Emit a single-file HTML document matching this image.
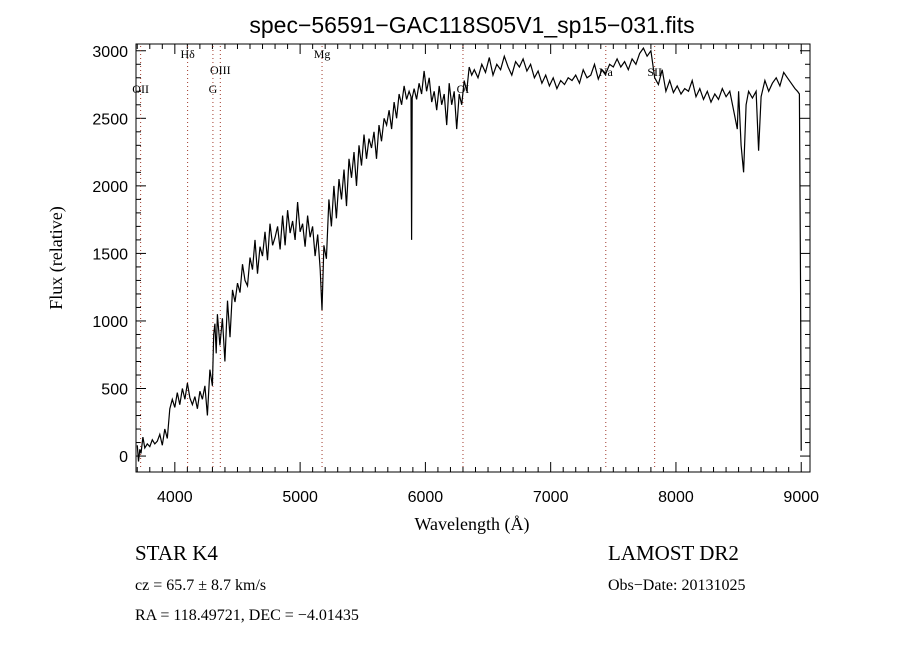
<!DOCTYPE html>
<html><head><meta charset="utf-8"><style>
body{margin:0;background:#fff;}
svg text{fill:#000;}
</style></head><body>
<svg id="chart" width="900" height="650" xmlns="http://www.w3.org/2000/svg" style="display:block;background:#fff">
<text x="472" y="33" font-family="Liberation Sans, sans-serif" font-size="23" text-anchor="middle">spec−56591−GAC118S05V1_sp15−031.fits</text>
<g id="axes"></g>
<g id="lines"></g>
<g id="series"></g>
<text x="472" y="530" font-family="Liberation Serif, serif" font-size="18" text-anchor="middle">Wavelength (Å)</text>
<text transform="translate(62,258) rotate(-90)" font-family="Liberation Serif, serif" font-size="18" text-anchor="middle">Flux (relative)</text>
<text x="135" y="560" font-family="Liberation Serif, serif" font-size="21">STAR    K4</text>
<text x="135" y="590" font-family="Liberation Serif, serif" font-size="16">cz = 65.7 ± 8.7 km/s</text>
<text x="135" y="620" font-family="Liberation Serif, serif" font-size="16">RA = 118.49721, DEC =  −4.01435</text>
<text x="608" y="560" font-family="Liberation Serif, serif" font-size="21">LAMOST DR2</text>
<text x="608" y="590" font-family="Liberation Serif, serif" font-size="16">Obs−Date: 20131025</text>
</svg>
<script>
const xTicks=[4000,5000,6000,7000,8000,9000];
const yTicks=[0,500,1000,1500,2000,2500,3000];
const lineWaves=[3727,4102,4304,4363,5175,6300,7440,7830];
const lineNames=["OII","Hδ","G","OIII","Mg","OI","Na","SII"];
const lineLabelY=[93,58,93,74,58,93,76,76];
const waves=[
3700,3710,3720,3730,3745,3760,3780,3800,3820,3840,
3860,3880,3900,3920,3940,3960,3980,4000,4020,4040,
4060,4080,4100,4120,4140,4160,4180,4200,4220,4240,
4260,4280,4300,4310,4320,4330,4340,4360,4380,4400,
4420,4440,4460,4480,4500,4520,4540,4560,4580,4600,
4620,4640,4660,4680,4700,4720,4740,4760,4780,4800,
4820,4840,4860,4880,4900,4920,4940,4960,4980,5000,
5020,5040,5060,5080,5100,5120,5140,5160,5175,5190,
5210,5230,5250,5270,5290,5310,5330,5350,5370,5390,
5410,5430,5450,5470,5490,5510,5530,5550,5570,5590,
5610,5630,5650,5670,5690,5710,5730,5750,5770,5790,
5810,5830,5850,5870,5885,5890,5895,5910,5930,5950,
5970,5990,6010,6030,6050,6070,6090,6110,6130,6150,
6170,6190,6210,6230,6250,6270,6290,6310,6330,6350,
6370,6390,6420,6450,6480,6510,6540,6570,6600,6630,
6660,6690,6720,6750,6780,6810,6840,6870,6900,6930,
6960,6990,7020,7050,7080,7110,7140,7170,7200,7230,
7260,7290,7320,7350,7380,7410,7440,7470,7500,7530,
7560,7590,7620,7650,7680,7710,7740,7770,7800,7830,
7860,7890,7920,7950,7980,8010,8040,8070,8100,8130,
8160,8190,8220,8250,8280,8310,8340,8370,8400,8430,
8460,8490,8500,8520,8540,8560,8580,8610,8640,8660,
8680,8710,8740,8770,8800,8830,8860,8890,8920,8950,
8970,8985,8995,9000];
const flux=[
80,-40,50,20,140,60,90,70,120,90,
110,160,80,200,130,350,420,360,470,380,
500,420,540,430,380,440,350,480,420,520,
300,640,520,900,980,760,1050,820,1020,700,
1150,880,1230,1140,1280,1210,1420,1300,1260,1470,
1380,1600,1350,1550,1480,1660,1450,1720,1560,1620,
1700,1530,1780,1560,1820,1650,1740,1600,1880,1660,
1720,1550,1780,1620,1700,1480,1640,1380,1080,1560,
1460,1900,1700,2000,1760,2050,1900,2120,1850,2200,
2060,2250,2000,2300,2150,2380,2200,2350,2280,2400,
2200,2450,2330,2500,2450,2560,2420,2620,2500,2680,
2600,2740,2640,2700,2660,1600,2650,2720,2640,2760,
2680,2850,2700,2800,2620,2700,2560,2740,2600,2680,
2450,2760,2600,2700,2420,2680,2600,2780,2700,2880,
2820,2860,2800,2900,2840,2950,2820,2900,2860,2960,
2880,2820,2920,2880,2940,2850,2900,2800,2850,2760,
2820,2740,2800,2720,2780,2750,2800,2780,2820,2760,
2860,2800,2820,2900,2790,2860,2830,2900,2880,2940,
2880,2920,2860,2940,2900,2980,3020,2960,3000,2800,
2750,2860,2700,2780,2690,2740,2680,2720,2700,2780,
2660,2720,2640,2700,2620,2680,2640,2720,2660,2700,
2560,2420,2700,2300,2100,2600,2700,2650,2700,2260,
2660,2780,2700,2760,2800,2740,2840,2800,2760,2720,
2700,2680,1200,40];
const X0=136,X1=810,Y0=472,Y1=44,WMIN=3690,WMAX=9070,FMIN=-118,FMAX=3050;
function sx(w){return X0+(w-WMIN)/(WMAX-WMIN)*(X1-X0);}
function sy(f){return Y0-(f-FMIN)/(FMAX-FMIN)*(Y0-Y1);}
const NS="http://www.w3.org/2000/svg";
function mk(tag,attrs,parent){const e=document.createElementNS(NS,tag);for(const k in attrs)e.setAttribute(k,attrs[k]);parent.appendChild(e);return e;}
const ax=document.getElementById('axes');
const frame=mk('rect',{x:X0,y:Y1,width:X1-X0,height:Y0-Y1,fill:'none',stroke:'#000','stroke-width':1},ax);


for(let w=3700;w<=9000;w+=100){
  const len=(w%1000===0)?10:5;const x=sx(w);
  mk('line',{x1:x,x2:x,y1:Y0,y2:Y0-len,stroke:'#000'},ax);
  mk('line',{x1:x,x2:x,y1:Y1,y2:Y1+len,stroke:'#000'},ax);
}
for(let f=0;f<=3000;f+=100){
  const len=(f%500===0)?10:5;const y=sy(f);
  mk('line',{x1:X0,x2:X0+len,y1:y,y2:y,stroke:'#000'},ax);
  mk('line',{x1:X1,x2:X1-len,y1:y,y2:y,stroke:'#000'},ax);
}
xTicks.forEach(w=>{const t=mk('text',{x:sx(w),y:Y0+30,'font-family':'Liberation Sans, sans-serif','font-size':16,'text-anchor':'middle'},ax);t.textContent=w;

});
yTicks.forEach(f=>{const t=mk('text',{x:X0-8,y:sy(f)+6,'font-family':'Liberation Sans, sans-serif','font-size':16,'text-anchor':'end'},ax);t.textContent=f;

});
const lg=document.getElementById('lines');
lineWaves.forEach((w,i)=>{const x=sx(w);
  const l=mk('line',{x1:x,x2:x,y1:Y1+2,y2:Y0-2,stroke:'#a0382a','stroke-dasharray':'1,3','stroke-width':1},lg);
  
  
  const t=mk('text',{x:x,y:lineLabelY[i],'font-family':'Liberation Serif, serif','font-size':12,'text-anchor':'middle'},lg);t.textContent=lineNames[i];
  
  
});
const sg=document.getElementById('series');
let d='';waves.forEach((w,i)=>{d+=(i?'L':'M')+sx(w).toFixed(1)+','+sy(flux[i]).toFixed(1);});
const p=mk('path',{d:d,fill:'none',stroke:'#000','stroke-width':1.2,'stroke-linejoin':'miter'},sg);


</script>
</body></html>
